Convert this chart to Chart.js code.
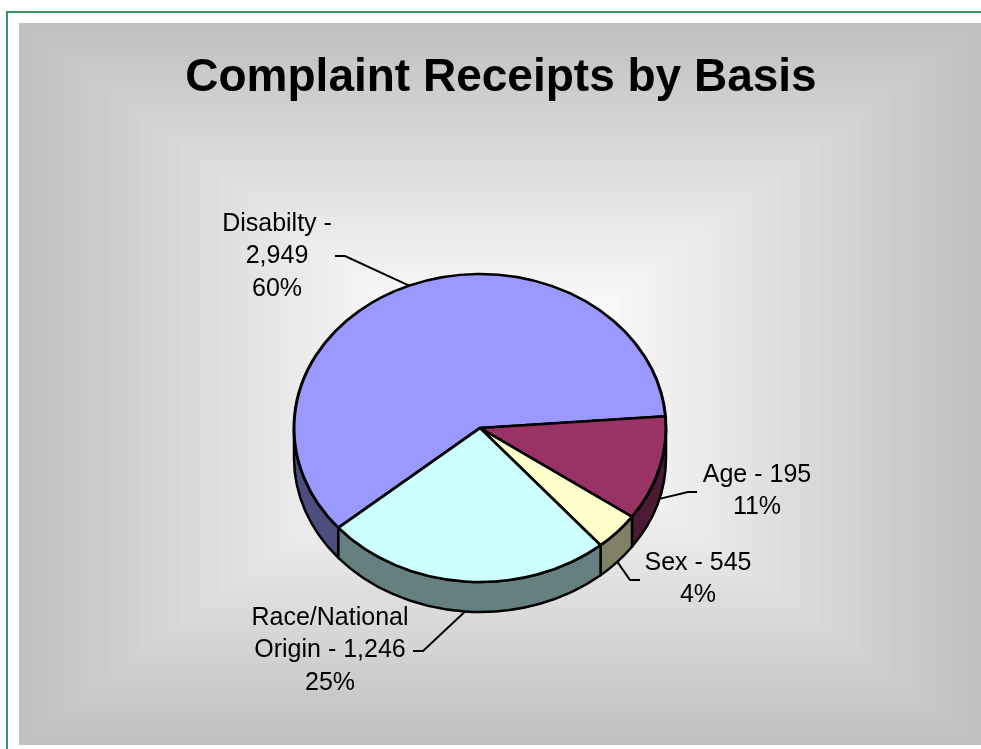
<!DOCTYPE html>
<html><head><meta charset="utf-8">
<script src="https://cdn.jsdelivr.net/npm/chart.js@4.4.0/dist/chart.umd.min.js"></script>
<style>html,body{margin:0;padding:0;background:#fff;overflow:hidden}#wrap{position:absolute;left:0;top:0;width:981px;height:749px}</style>
</head><body><div id="wrap"><canvas id="c" width="981" height="749"></canvas></div>
<script>
// ---- data ----
const categories = ["Disabilty", "Age", "Sex", "Race/National Origin"];
const counts = ["2,949", "195", "545", "1,246"];
const percents = [60, 11, 4, 25];
const topColors = ["#9999FF", "#993366", "#FFFFCC", "#CCFFFF"];
const sideColors = ["#4D4D80", "#4D1A33", "#808066", "#668080"];
const titleText = "Complaint Receipts by Basis";

const pct = i => percents[i] + "%";
const labelLines = [
  [categories[0] + " -", counts[0], pct(0)],
  [categories[1] + " - " + counts[1], pct(1)],
  [categories[2] + " - " + counts[2], pct(2)],
  ["Race/National", "Origin - " + counts[3], pct(3)]
];
// label layout: text centre x, first line y, leader start, leader elbow
const labelLayout = [
  {x: 277, y: 224, from: [335, 256], elbow: [345, 256]},
  {x: 757, y: 475, from: [697, 492], elbow: [688, 492]},
  {x: 698, y: 563, from: [640, 580], elbow: [630, 580]},
  {x: 330, y: 618, from: [413, 651], elbow: [423, 651]}
];

const TILT = 154 / 186;   // vertical squash of the pie
const DEPTH = 30;         // thickness of the 3D wall
const LINE_H = 32.5;
const FONT = "'Liberation Sans', Arial, sans-serif";

function geom(chart) {
  const meta = chart.getDatasetMeta(0);
  const el = meta.data[0];
  return {meta, cx: el.x, cy: el.y, r: el.outerRadius};
}

const pie3d = {
  id: 'pie3d',
  beforeDraw(chart) {
    const ctx = chart.ctx;
    ctx.save();
    ctx.fillStyle = '#fff';
    ctx.fillRect(0, 0, 981, 749);
    // green frame lines
    ctx.fillStyle = '#339966';
    ctx.fillRect(6, 11, 975, 2);
    ctx.fillRect(6, 11, 2, 738);
    // gray panel with rectangular "from centre" gradient
    const px = 19, py = 23, pw = 962, ph = 722;
    const gcx = px + pw / 2, gcy = py + ph / 2;
    const N = 48;
    for (let i = 0; i <= N; i++) {
      const v = 1 - i / N;
      const t = Math.min(1, (1 - v) / 0.85);
      const c = Math.round(192 + 63 * t);
      ctx.fillStyle = `rgb(${c},${c},${c})`;
      const hw = pw / 2 * v, hh = ph / 2 * v;
      ctx.fillRect(gcx - hw, gcy - hh, hw * 2, hh * 2);
    }
    // title
    ctx.fillStyle = '#000';
    ctx.font = `bold 46px ${FONT}`;
    ctx.textAlign = 'center';
    ctx.textBaseline = 'alphabetic';
    ctx.fillText(titleText, 501, 91);
    ctx.restore();
  },
  beforeDatasetsDraw(chart) {
    const ctx = chart.ctx;
    const {meta, cx, cy, r} = geom(chart);
    const rx = r, ry = r * TILT;
    ctx.save();
    ctx.lineWidth = 2.5;
    ctx.strokeStyle = '#000';
    ctx.lineJoin = 'round';
    meta.data.forEach((el, i) => {
      const a = el.startAngle, b = el.endAngle;
      for (let k = -3; k <= 3; k++) {
        const lo = Math.max(a, 2 * Math.PI * k);
        const hi = Math.min(b, 2 * Math.PI * k + Math.PI);
        if (hi > lo) {
          ctx.beginPath();
          ctx.ellipse(cx, cy, rx, ry, 0, lo, hi);
          ctx.ellipse(cx, cy + DEPTH, rx, ry, 0, hi, lo, true);
          ctx.closePath();
          ctx.fillStyle = sideColors[i];
          ctx.fill();
          ctx.stroke();
        }
      }
    });
    ctx.restore();
  },
  beforeDatasetDraw(chart) {
    const ctx = chart.ctx;
    const {cx, cy} = geom(chart);
    ctx.save();
    ctx.translate(cx, cy);
    ctx.scale(1, TILT);
    ctx.translate(-cx, -cy);
  },
  afterDatasetDraw(chart) {
    chart.ctx.restore();
  },
  afterDatasetsDraw(chart) {
    const ctx = chart.ctx;
    const {meta, cx, cy, r} = geom(chart);
    const rx = r, ry = r * TILT;
    ctx.save();
    ctx.strokeStyle = '#000';
    ctx.lineWidth = 2;
    ctx.fillStyle = '#000';
    ctx.font = `25px ${FONT}`;
    ctx.textAlign = 'center';
    ctx.textBaseline = 'middle';
    meta.data.forEach((el, i) => {
      const m = (el.startAngle + el.endAngle) / 2;
      const s = Math.sin(m);
      const ax = cx + rx * Math.cos(m);
      const ay = cy + ry * s + (s > 0 ? DEPTH : 0);
      const L = labelLayout[i];
      ctx.beginPath();
      ctx.moveTo(L.from[0], L.from[1]);
      ctx.lineTo(L.elbow[0], L.elbow[1]);
      ctx.lineTo(ax, ay);
      ctx.stroke();
      labelLines[i].forEach((t, j) => ctx.fillText(t, L.x, L.y + j * LINE_H));
    });
    ctx.restore();
  }
};

new Chart(document.getElementById('c'), {
  type: 'pie',
  data: {
    labels: categories,
    datasets: [{
      data: percents,
      backgroundColor: topColors,
      borderColor: '#000',
      borderWidth: 3,
      borderJoinStyle: 'round',
      hoverOffset: 0,
      offset: 0
    }]
  },
  options: {
    responsive: false,
    animation: false,
    events: [],
    rotation: 229.6,
    layout: {padding: {left: 292.5, right: 313.5, top: 240.5, bottom: 133.5}},
    plugins: {legend: {display: false}, tooltip: {enabled: false}, title: {display: false}}
  },
  plugins: [pie3d]
});
</script>
</body></html>
